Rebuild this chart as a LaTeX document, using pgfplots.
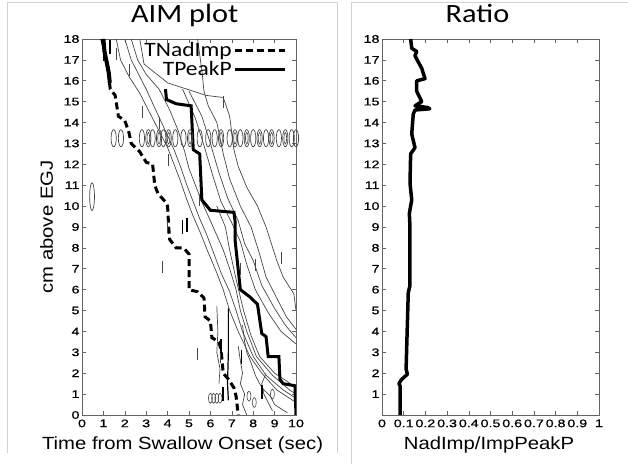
\documentclass[border=0pt]{standalone}
\usepackage{pgfplots}
\pgfplotsset{compat=1.18}
\usepackage{fontspec}
\setmainfont{Liberation Sans}
\newfontfamily\tickfont[FakeStretch=1.3,FakeBold=0.6]{Liberation Sans}
\newfontfamily\labfont[FakeStretch=1.15]{Liberation Sans}
\newfontfamily\titfont[FakeStretch=1.15]{Carlito}
\definecolor{cgray}{RGB}{70,70,70}
\definecolor{axgray}{RGB}{100,100,100}
\begin{document}
\begin{tikzpicture}
\useasboundingbox (0bp,0bp) rectangle (628bp,464bp);
\draw[gray!35, line width=1bp] (7bp,11bp) -- (7bp,461bp) -- (337bp,461bp) -- (337bp,11bp);
\draw[gray!35, line width=1bp] (351bp,0bp) -- (351bp,461bp) -- (628bp,461bp);
\pgfplotsset{
 every axis/.append style={
  scale only axis, axis line style={axgray}, tick style={axgray, line width=0.6bp},
  major tick length=4bp, tick align=inside,
  ticklabel style={font=\tickfont\fontsize{11}{12}\selectfont},
  /pgf/number format/assume math mode=true,
  label style={font=\labfont\fontsize{17.7}{21}\selectfont},
  title style={font=\titfont\fontsize{26.5}{30}\selectfont},
  xticklabel style={yshift=-1bp}, yticklabel style={xshift=1bp},
 },
 contour/.style={cgray, line width=0.7bp, forget plot},
}
% ---------------- AIM plot ----------------
\begin{axis}[at={(82bp,49bp)}, anchor=south west, width=214bp, height=376bp,
 xmin=0, xmax=10, ymin=0, ymax=18,
 xtick={0,...,10}, ytick={0,...,18},
 xlabel={Time from Swallow Onset (sec)}, ylabel={cm above EGJ},
 xlabel style={at={(axis description cs:0.47,-0.08)}, anchor=center},
 ylabel style={at={(axis description cs:-0.165,0.5)}, anchor=center},
 title={AIM plot}, title style={at={(axis description cs:0.48,1)}, anchor=base, yshift=11bp},
 legend plot pos=right, legend cell align=right,
 legend image code/.code={\draw[#1] (0bp,0bp) -- (50bp,0bp);},
 legend style={draw=none, fill=none, at={(axis description cs:0.955,0.995)}, anchor=north east,
   font=\titfont\fontsize{20.5}{24}\selectfont, inner sep=0pt, row sep=0bp,
   nodes={inner sep=1.5bp}},
]
% contour lines (left group)
\addplot[contour] coordinates {(1.6,18)(1.8,17)(2.2,16.2)(2.7,15.4)(3.1,14.6)(3.6,13.6)(4.0,12.8)(4.3,12.0)(4.6,11.2)(4.9,10.3)(5.2,9.5)(5.5,8.8)(5.85,7.9)(6.3,6.8)(6.6,6.0)(6.9,5.0)(7.3,4.0)(7.85,2.8)(8.4,2.0)(9.1,1.2)(10,0.6)};
\addplot[contour] coordinates {(2.0,18)(2.3,17)(2.6,16.4)(3.0,15.6)(3.4,14.7)(3.9,13.6)(4.3,12.7)(4.6,11.9)(4.9,11.0)(5.2,10.2)(5.5,9.4)(5.8,8.7)(6.1,7.9)(6.5,6.8)(6.9,5.9)(7.2,5.0)(7.5,4.0)(8.0,2.8)(8.6,1.9)(9.4,1.2)(10,0.8)};
\addplot[contour] coordinates {(2.3,18)(2.6,17)(3.0,16.3)(3.6,15.6)(4.1,14.6)(4.5,13.6)(4.8,12.6)(5.0,11.8)(5.3,11.0)(5.6,10.2)(6.0,9.3)(6.3,8.6)(6.6,7.9)(6.9,7.0)(7.2,6.0)(7.4,5.0)(7.7,4.0)(8.15,2.8)(8.9,1.9)(9.7,1.2)(10,1.0)};
\addplot[contour] coordinates {(6.3,10.0)(6.7,9.0)(6.9,7.9)(7.2,6.5)(7.55,5.0)(7.9,3.8)(8.3,2.8)(9.0,2.0)(9.6,1.6)(10,1.3)};
% contour lines (right group)
\addplot[contour] coordinates {(2.7,18)(2.9,16.8)(4.0,15.9)(4.9,15.6)(5.8,15.3)(6.6,15.2)(6.9,14.3)(7.1,12.7)(7.3,11.9)(7.7,10.9)(8.2,10.0)(8.6,9.0)(9.1,7.4)(9.4,6.6)(9.9,5.8)(10,5.0)};
\addplot[contour] coordinates {(5.4,18)(5.6,16.5)(5.7,15.5)(5.9,14.8)(6.3,14.0)(6.6,12.5)(6.9,11.3)(7.4,10.0)(7.9,9.0)(8.3,7.7)(8.6,6.6)(9.1,5.6)(9.55,4.7)(10,4.1)};
\addplot[contour] coordinates {(5.0,15.5)(5.6,14.3)(6.0,13.0)(6.4,11.6)(6.8,10.4)(7.3,9.3)(7.6,8.2)(8.0,7.4)(8.4,6.2)(9.0,5.1)(9.5,4.3)(10,3.7)};
\addplot[contour] coordinates {(4.7,15.6)(5.3,14.2)(5.7,12.9)(6.1,11.5)(6.5,10.2)(7.0,9.2)(7.4,8.3)(7.7,7.2)(8.1,6.0)(8.7,4.9)(9.3,4.0)(10,3.4)};
% bottom contours
\addplot[contour] coordinates {(7.5,4.3)(7.6,3.5)(7.7,3.0)(7.9,2.5)(8.1,1.9)(8.3,1.5)(8.5,1.2)(8.8,0.9)(9.0,0.5)(9.3,0.3)(9.6,0.1)};
\addplot[contour] coordinates {(7.3,3.3)(7.4,2.6)(7.5,2.0)(7.4,1.5)(7.6,1.0)(7.5,0.5)(7.7,0.0)};
\addplot[contour] coordinates {(8.6,2.0)(8.4,1.5)(8.5,1.0)(8.7,0.6)(8.9,0.2)};
\addplot[contour] coordinates {(6.3,5.2)(6.35,4.0)(6.3,3.0)(6.45,2.2)(6.4,1.5)};
\addplot[black, line width=1.2bp, forget plot] coordinates {(6.84,5.1)(6.84,3.0)(6.8,1.5)(6.84,0.7)};
% oval rows
\addplot[cgray, only marks, mark=o, mark size=2.6bp, mark options={yscale=3.3, line width=0.7bp}, forget plot] coordinates {
(1.48,13.25)(1.82,13.25)(2.8,13.25)(3.1,13.25)(3.3,13.25)(3.6,13.25)(3.8,13.25)(4.05,13.25)(4.36,13.25)(4.74,13.25)(5.05,13.25)(5.5,13.25)(5.9,13.25)(6.2,13.25)(6.5,13.25)(6.9,13.25)(7.15,13.25)(7.4,13.25)(7.7,13.25)(8.0,13.25)(8.3,13.25)(8.6,13.25)(8.86,13.25)(9.2,13.25)(9.5,13.25)(9.8,13.25)(10.0,13.25)};
\addplot[cgray, only marks, mark=o, mark size=1.3bp, mark options={yscale=4.5, line width=0.6bp}, forget plot] coordinates {
(3.1,13.25)(3.6,13.25)(4.05,13.25)(5.05,13.25)(6.5,13.25)(7.15,13.25)(7.7,13.25)(8.3,13.25)(8.86,13.25)(9.5,13.25)};
\addplot[cgray, only marks, mark=o, mark size=2.4bp, mark options={yscale=5.8, line width=0.7bp}, forget plot] coordinates {(0.47,10.45)};
\addplot[cgray, only marks, mark=o, mark size=2bp, mark options={yscale=2.5, line width=0.6bp}, forget plot] coordinates {(6.0,0.8)(6.15,0.8)(6.3,0.8)(6.45,0.8)(7.8,0.9)(8.05,0.6)(8.9,1.0)};
% vertical fragments
\addplot[cgray, only marks, mark=|, mark size=6bp, mark options={line width=0.8bp}, forget plot] coordinates {
(1.6,17.3)(2.8,14.5)(3.6,14.0)(4.05,12.2)(3.74,7.1)(5.37,2.9)(6.45,2.8)(7.4,7.0)(8.1,7.2)(5.5,10.3)(3.97,9.0)(2.2,16.5)(9.3,7.5)(6.6,15.0)};
\addplot[black, only marks, mark=|, mark size=7bp, mark options={line width=1.6bp}, forget plot] coordinates {
(1.0,17.3)(1.15,16.8)(1.3,17.6)(4.7,9.0)(4.9,9.1)(6.5,3.3)(6.6,1.0)(8.4,1.1)(7.45,2.8)};
\addplot[black, line width=4bp, forget plot] coordinates {(1.0,18)(1.05,17.4)(1.15,16.9)(1.25,16.4)(1.3,15.9)};
% main lines
\addplot[black, line width=3bp, dash pattern=on 7bp off 4bp] coordinates {
(0.93,18)(1.2,16.7)(1.32,15.6)(1.55,15.3)(1.7,14.3)(2.0,14.1)(2.2,13.5)(2.3,13.0)(2.7,12.6)(3.0,12.1)(3.3,12.0)(3.4,11.0)(3.55,10.6)(3.9,10.2)(4.0,10.0)(4.05,9.0)(4.1,8.4)(4.4,8.0)(4.75,8.0)(5.0,7.7)(5.0,6.0)(5.4,5.9)(5.7,5.6)(5.75,4.7)(6.0,4.5)(6.07,3.7)(6.4,3.5)(6.5,3.1)(6.6,2.0)(6.85,1.7)(7.1,1.3)(7.2,0.9)(7.3,0)};
\addlegendentry{TNadImp}
\addplot[black, line width=3bp] coordinates {
(3.9,15.6)(3.95,15.1)(4.4,14.9)(5.1,14.8)(5.2,12.7)(5.5,12.5)(5.6,10.3)(6.0,9.8)(7.1,9.7)(7.15,9.3)(7.15,8.4)(7.4,6.0)(7.85,5.65)(8.2,5.3)(8.4,3.9)(8.6,3.75)(8.7,2.8)(9.2,2.8)(9.25,1.7)(9.4,1.5)(9.95,1.4)(10,0)};
\addlegendentry{TPeakP}
\end{axis}
% ---------------- Ratio ----------------
\begin{axis}[at={(382bp,49bp)}, anchor=south west, width=217bp, height=376bp,
 xmin=0, xmax=1, ymin=0, ymax=18,
 xtick={0,0.1,0.2,0.3,0.4,0.5,0.6,0.7,0.8,0.9,1},
 xticklabels={0,0.1,0.2,0.3,0.4,0.5,0.6,0.7,0.8,0.9,1},
 ytick={1,...,18},
 xlabel={NadImp/ImpPeakP},
 xlabel style={at={(axis description cs:0.493,-0.08)}, anchor=center},
 title={Ratio}, title style={at={(axis description cs:0.44,1)}, anchor=base, yshift=11bp},
]
\addplot[black, line width=3.5bp, line join=round] coordinates {
(0.083,0.0)(0.083,0.13)(0.083,1.4)(0.078,1.5)(0.09,1.7)(0.117,1.95)(0.111,2.2)(0.121,5.85)(0.129,6.2)(0.129,9.0)(0.126,9.65)(0.137,10.3)(0.129,11.1)(0.132,12.5)(0.152,12.8)(0.137,13.45)(0.144,14.4)(0.152,14.6)(0.22,14.66)(0.21,14.72)(0.152,14.8)(0.183,15.0)(0.16,15.5)(0.16,16.0)(0.198,16.1)(0.183,16.6)(0.167,16.9)(0.152,17.2)(0.16,17.4)(0.137,17.56)(0.132,18)};
\end{axis}
\end{tikzpicture}
\end{document}
